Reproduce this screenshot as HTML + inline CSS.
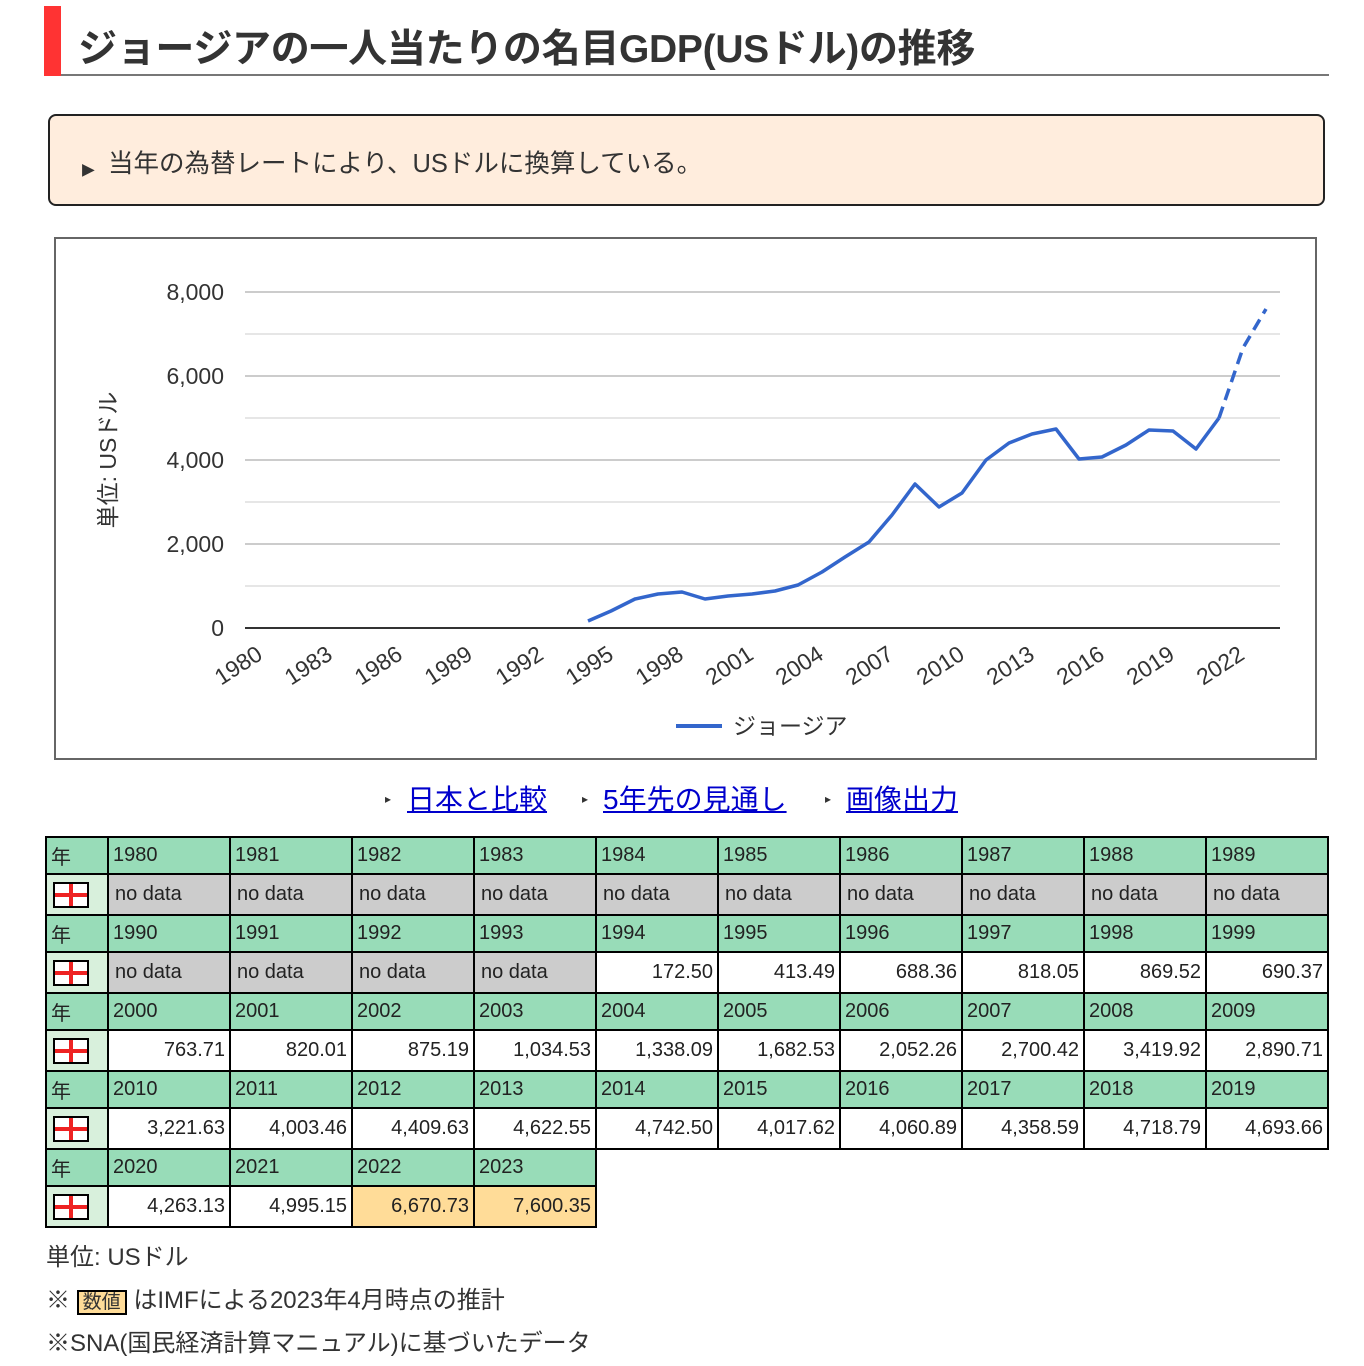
<!DOCTYPE html>
<html><head><meta charset="utf-8"><style>
body{margin:0;background:#fff;font-family:"Liberation Sans","Noto Sans CJK JP",sans-serif;color:#333;width:1364px;height:1366px;position:relative;overflow:hidden}
.h1{position:absolute;left:44px;top:6px;width:1285px;height:68px;border-bottom:2px solid #777}
.h1 .bar{position:absolute;left:0;top:0;width:17px;height:70px;background:#f33}
.h1 .t{position:absolute;left:34px;top:12px;font-size:39px;font-weight:bold;color:#333;letter-spacing:-0.3px}
.note{position:absolute;left:48px;top:114px;width:1273px;height:88px;border:2px solid #222;border-radius:8px;background:#ffeddd}
.note span{position:absolute;left:58px;top:27px;font-size:25.5px;color:#333}
.mk{position:absolute;font-size:12px}
.links{position:absolute;top:778px;font-size:28px;color:#00c;text-decoration:underline}
table{position:absolute;left:45px;top:836px;border-collapse:collapse;font-size:20px;table-layout:fixed;width:1282px}
td{border:2px solid #000;padding:0 4px;color:#222;overflow:hidden;white-space:nowrap}
tr.y td{background:#98dcb8;height:35px}
tr.d td{height:39px;text-align:right;background:#fff}
tr.d td.nd{background:#ccc;text-align:left;padding-left:6px}
tr.d td.e{background:#ffdc98}
td.f{background:#d8f0dc!important;text-align:left!important}
tr.y td.f{background:#98dcb8!important}
.flag{display:inline-block;width:32px;height:22px;border:2px solid #000;background:#fff;position:relative;vertical-align:middle;margin-left:2px}
.flag:before{content:"";position:absolute;left:0;right:0;top:9px;height:4px;background:#e22}
.flag:after{content:"";position:absolute;top:0;bottom:0;left:14px;width:4px;background:#e22}
.foot{position:absolute;left:46px;font-size:24px;color:#333}
</style></head><body>
<div class="h1"><div class="bar"></div><div class="t">ジョージアの一人当たりの名目GDP(USドル)の推移</div></div>
<div class="note"><span class="mk" style="left:32px;top:38px">▸</span><span>当年の為替レートにより、USドルに換算している。</span></div>
<svg style="position:absolute;left:0;top:0" width="1364" height="770">
<rect x="55" y="238" width="1261" height="521" fill="none" stroke="#666" stroke-width="2"/>
<g stroke="#e6e6e6" stroke-width="2">
<line x1="245" x2="1280" y1="334" y2="334"/><line x1="245" x2="1280" y1="418" y2="418"/><line x1="245" x2="1280" y1="502" y2="502"/><line x1="245" x2="1280" y1="586" y2="586"/></g>
<g stroke="#ccc" stroke-width="2">
<line x1="245" x2="1280" y1="292" y2="292"/><line x1="245" x2="1280" y1="376" y2="376"/><line x1="245" x2="1280" y1="460" y2="460"/><line x1="245" x2="1280" y1="544" y2="544"/></g>
<line x1="245" x2="1280" y1="628" y2="628" stroke="#333" stroke-width="2"/>
<g font-size="23" fill="#333" text-anchor="end">
<text x="224" y="300">8,000</text><text x="224" y="384">6,000</text><text x="224" y="468">4,000</text><text x="224" y="552">2,000</text><text x="224" y="636">0</text></g>
<text transform="translate(116,460) rotate(-90)" font-size="23" fill="#333" text-anchor="middle">単位: USドル</text>
<g font-size="23" fill="#333" text-anchor="end">
<text transform="translate(264,658) rotate(-33)">1980</text>
<text transform="translate(334,658) rotate(-33)">1983</text>
<text transform="translate(404,658) rotate(-33)">1986</text>
<text transform="translate(474,658) rotate(-33)">1989</text>
<text transform="translate(545,658) rotate(-33)">1992</text>
<text transform="translate(615,658) rotate(-33)">1995</text>
<text transform="translate(685,658) rotate(-33)">1998</text>
<text transform="translate(755,658) rotate(-33)">2001</text>
<text transform="translate(825,658) rotate(-33)">2004</text>
<text transform="translate(895,658) rotate(-33)">2007</text>
<text transform="translate(966,658) rotate(-33)">2010</text>
<text transform="translate(1036,658) rotate(-33)">2013</text>
<text transform="translate(1106,658) rotate(-33)">2016</text>
<text transform="translate(1176,658) rotate(-33)">2019</text>
<text transform="translate(1246,658) rotate(-33)">2022</text></g>
<polyline fill="none" stroke="#3366cc" stroke-width="3.5" stroke-linejoin="round" points="588,621 611,611 635,599 658,594 682,592 705,599 728,596 752,594 775,591 798,585 822,572 845,557 869,542 892,515 915,484 939,507 962,493 986,460 1009,443 1032,434 1056,429 1079,459 1102,457 1126,445 1149,430 1173,431 1196,449 1219,418"/>
<polyline fill="none" stroke="#3366cc" stroke-width="3.5" stroke-dasharray="12,7" points="1219,418 1243,348 1266,309"/>
<line x1="676" x2="722" y1="726" y2="726" stroke="#3366cc" stroke-width="4"/>
<text x="733" y="734" font-size="23" fill="#333">ジョージア</text>
</svg>
<span class="mk" style="left:385px;top:792px">▸</span><span class="links" style="left:407px">日本と比較</span>
<span class="mk" style="left:582px;top:792px">▸</span><span class="links" style="left:603px">5年先の見通し</span>
<span class="mk" style="left:825px;top:792px">▸</span><span class="links" style="left:846px">画像出力</span>
<table>
<colgroup><col style="width:62px"><col span="10" style="width:122px"></colgroup>
<tr class="y"><td class="f">年</td><td>1980</td><td>1981</td><td>1982</td><td>1983</td><td>1984</td><td>1985</td><td>1986</td><td>1987</td><td>1988</td><td>1989</td></tr>
<tr class="d"><td class="f"><span class="flag"></span></td><td class="nd">no data</td><td class="nd">no data</td><td class="nd">no data</td><td class="nd">no data</td><td class="nd">no data</td><td class="nd">no data</td><td class="nd">no data</td><td class="nd">no data</td><td class="nd">no data</td><td class="nd">no data</td></tr>
<tr class="y"><td class="f">年</td><td>1990</td><td>1991</td><td>1992</td><td>1993</td><td>1994</td><td>1995</td><td>1996</td><td>1997</td><td>1998</td><td>1999</td></tr>
<tr class="d"><td class="f"><span class="flag"></span></td><td class="nd">no data</td><td class="nd">no data</td><td class="nd">no data</td><td class="nd">no data</td><td>172.50</td><td>413.49</td><td>688.36</td><td>818.05</td><td>869.52</td><td>690.37</td></tr>
<tr class="y"><td class="f">年</td><td>2000</td><td>2001</td><td>2002</td><td>2003</td><td>2004</td><td>2005</td><td>2006</td><td>2007</td><td>2008</td><td>2009</td></tr>
<tr class="d"><td class="f"><span class="flag"></span></td><td>763.71</td><td>820.01</td><td>875.19</td><td>1,034.53</td><td>1,338.09</td><td>1,682.53</td><td>2,052.26</td><td>2,700.42</td><td>3,419.92</td><td>2,890.71</td></tr>
<tr class="y"><td class="f">年</td><td>2010</td><td>2011</td><td>2012</td><td>2013</td><td>2014</td><td>2015</td><td>2016</td><td>2017</td><td>2018</td><td>2019</td></tr>
<tr class="d"><td class="f"><span class="flag"></span></td><td>3,221.63</td><td>4,003.46</td><td>4,409.63</td><td>4,622.55</td><td>4,742.50</td><td>4,017.62</td><td>4,060.89</td><td>4,358.59</td><td>4,718.79</td><td>4,693.66</td></tr>
<tr class="y"><td class="f">年</td><td>2020</td><td>2021</td><td>2022</td><td>2023</td><td style="border:none;background:#fff" colspan="6"></td></tr>
<tr class="d"><td class="f"><span class="flag"></span></td><td>4,263.13</td><td>4,995.15</td><td class="e">6,670.73</td><td class="e">7,600.35</td><td style="border:none" colspan="6"></td></tr>
</table>
<div class="foot" style="top:1237px">単位: USドル</div>
<div class="foot" style="top:1280px">※ <span style="background:#ffdc98;border:2px solid #000;font-size:19px;padding:0 4px">数値</span> はIMFによる2023年4月時点の推計</div>
<div class="foot" style="top:1323px">※SNA(国民経済計算マニュアル)に基づいたデータ</div>
</body></html>
